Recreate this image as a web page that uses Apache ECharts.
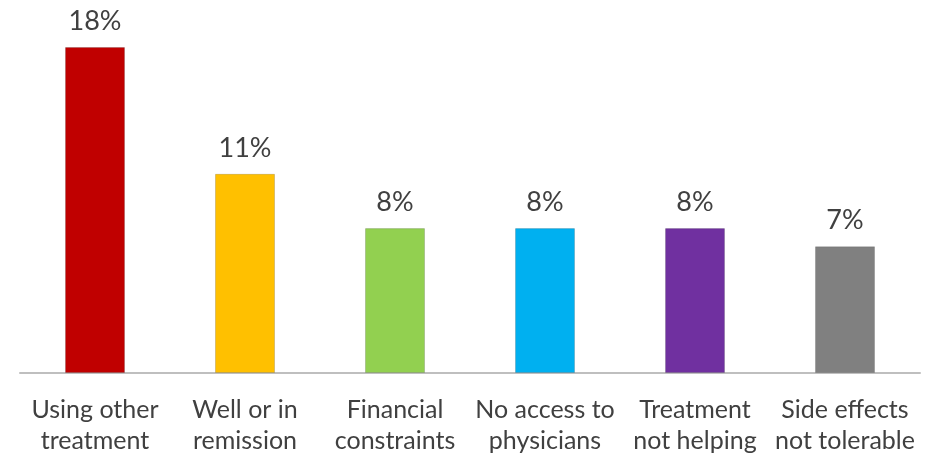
<!DOCTYPE html>
<html>
<head>
<meta charset="utf-8">
<script src="https://cdn.jsdelivr.net/npm/echarts@6/dist/echarts.min.js"></script>
<style>html,body{margin:0;padding:0;background:#fff;}#c{width:930px;height:458px;}</style>
</head>
<body>
<div id="c"></div>
<script>
const categories = ["Using other\ntreatment", "Well or in\nremission", "Financial\nconstraints", "No access to\nphysicians", "Treatment\nnot helping", "Side effects\nnot tolerable"];
const values = [18, 11, 8, 8, 8, 7];
const colors = ["#C00000", "#FFC000", "#92D050", "#00B0F0", "#7030A0", "#808080"];

const chart = echarts.init(document.getElementById('c'), null, {renderer: 'canvas'});
chart.setOption({
  animation: false,
  backgroundColor: '#fff',
  grid: {left: 20, right: 10, top: 47, bottom: 85, containLabel: false},
  xAxis: {
    type: 'category',
    data: categories,
    axisLine: {show: true, lineStyle: {color: '#BFBFBF', width: 2}},
    axisTick: {show: false},
    axisLabel: {
      interval: 0,
      margin: 21,
      color: '#404040',
      fontFamily: 'Lato, "Open Sans", sans-serif',
      fontSize: 25,
      lineHeight: 31
    }
  },
  yAxis: {
    type: 'value',
    min: 0,
    max: 18,
    show: false,
    splitLine: {show: false}
  },
  series: [{
    type: 'bar',
    barWidth: 60,
    data: values.map((v, i) => ({value: v, itemStyle: {color: colors[i], borderColor: 'rgba(0,0,0,0.15)', borderWidth: 1}})),
    label: {
      show: true,
      position: 'top',
      distance: 12,
      formatter: '{c}%',
      color: '#404040',
      fontFamily: 'Lato, "Open Sans", sans-serif',
      fontSize: 27
    }
  }]
});
</script>
</body>
</html>
